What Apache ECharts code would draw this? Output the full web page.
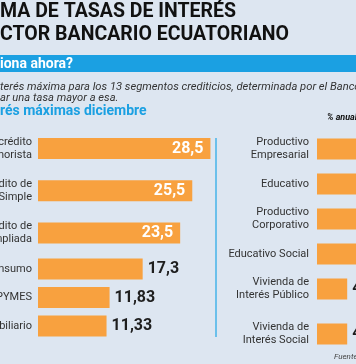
<!DOCTYPE html>
<html>
<head>
<meta charset="utf-8">
<script src="https://cdn.jsdelivr.net/npm/echarts@6/dist/echarts.min.js"></script>
<style>html,body{margin:0;padding:0;background:#dde6f1}#c{width:356px;height:364px}</style>
</head>
<body>
<div id="c"></div>
<script>
// ---- data ----
const leftCatsA = ['Microcrédito\nMinorista', 'Microcrédito de\nAcumulación Simple', 'Microcrédito de\nAcumulación Ampliada'];
const leftValsA = [28.5, 25.5, 23.5];
const leftCatsB = ['Consumo', 'Productivo PYMES', 'Inmobiliario'];
const leftValsB = [17.3, 11.83, 11.33];
const rightCatsA = ['Productivo\nEmpresarial', 'Educativo', 'Productivo\nCorporativo', 'Educativo Social'];
const rightValsA = [10.21, 9.5, 9.33, 7.5];
const rightCatsB = ['Vivienda de\nInterés Público', 'Vivienda de\nInterés Social'];
const rightValsB = [4.99, 4.99];

const titleLine1 = 'MA DE TASAS DE INTERÉS';
const titleLine2 = 'CTOR BANCARIO ECUATORIANO';
const bandText = 'iona ahora?';
const introLine1 = 'terés máxima para los 13 segmentos crediticios, determinada por el Banco';
const introLine2 = 'ar una tasa mayor a esa.';
const chartTitle = 'rés máximas diciembre';
const unitText = '% anual';
const sourceText = 'Fuente';

// ---- styling ----
const FONT = 'Roboto';
const ORANGE = '#f8a13f';
const BLUE = '#1ba0e2';
const fmt = p => String(p.value).replace('.', ',');
const insideLabel = {show: true, position: 'insideRight', distance: 7, color: '#fff', fontWeight: 'bold', fontSize: 16, fontFamily: FONT, formatter: fmt};
const outsideLabel = {show: true, position: 'right', distance: 5, color: '#1e1e1e', fontWeight: 'bold', fontSize: 16, fontFamily: FONT, formatter: fmt};
const toData = vs => vs.map(v => ({value: v, label: v > 20 ? insideLabel : outsideLabel}));

const grids = [
  {left: 38, top: 127.4, width: 181.5, height: 126.75, outerBoundsMode: 'none', containLabel: false},
  {left: 38, top: 254.75, width: 181.5, height: 85.5, outerBoundsMode: 'none', containLabel: false},
  {left: 317, top: 131.5, width: 72.6, height: 140, outerBoundsMode: 'none', containLabel: false},
  {left: 317, top: 266.5, width: 72.6, height: 90, outerBoundsMode: 'none', containLabel: false}
];
const cats = [leftCatsA, leftCatsB, rightCatsA, rightCatsB];
const vals = [leftValsA, leftValsB, rightValsA, rightValsB];
const maxes = [30, 30, 12, 12];
const margins = [6, 6, 8, 8];

const option = {
  backgroundColor: '#dde6f1',
  animation: false,
  grid: grids,
  xAxis: grids.map((g, i) => ({gridIndex: i, type: 'value', min: 0, max: maxes[i], show: false})),
  yAxis: grids.map((g, i) => ({
    gridIndex: i, type: 'category', inverse: true, data: cats[i],
    axisLine: {show: false}, axisTick: {show: false}, splitLine: {show: false},
    axisLabel: {margin: margins[i], color: '#333', fontSize: 11, lineHeight: 13, fontFamily: FONT, hideOverlap: false}
  })),
  series: grids.map((g, i) => ({
    type: 'bar', xAxisIndex: i, yAxisIndex: i, data: toData(vals[i]),
    barWidth: 21, itemStyle: {color: ORANGE}
  })),
  graphic: [
    {type: 'text', x: 0, y: 12, style: {text: titleLine1, font: "bold 19.5px Roboto", fill: '#111', textVerticalAlign: 'middle'}},
    {type: 'text', x: 0, y: 35, style: {text: titleLine2, font: "bold 19.5px Roboto", fill: '#111', textVerticalAlign: 'middle'}},
    {type: 'rect', shape: {x: 0, y: 55, width: 356, height: 17}, style: {fill: BLUE}},
    {type: 'text', x: 0, y: 64, style: {text: bandText, font: "bold 14px Roboto", fill: '#fff', textVerticalAlign: 'middle'}},
    {type: 'text', x: 0, y: 87, style: {text: introLine1, font: "italic 11.2px Roboto", fill: '#333', textVerticalAlign: 'middle'}},
    {type: 'text', x: 0, y: 98, style: {text: introLine2, font: "italic 11.2px Roboto", fill: '#333', textVerticalAlign: 'middle'}},
    {type: 'text', x: 0, y: 111, style: {text: chartTitle, font: "bold 14px Roboto", fill: BLUE, textVerticalAlign: 'middle'}},
    {type: 'text', x: 327, y: 118, style: {text: unitText, font: "italic bold 9px Roboto", fill: '#111', textVerticalAlign: 'middle'}},
    {type: 'line', shape: {x1: 216, y1: 138, x2: 216, y2: 337}, style: {stroke: '#45b3e8', lineWidth: 1.5}},
    {type: 'text', x: 334, y: 357, style: {text: sourceText, font: "italic 8px Roboto", fill: '#444', textVerticalAlign: 'middle'}}
  ]
};
const chart = echarts.init(document.getElementById('c'), null, {renderer: 'canvas'});
chart.setOption(option);
</script>
</body>
</html>
